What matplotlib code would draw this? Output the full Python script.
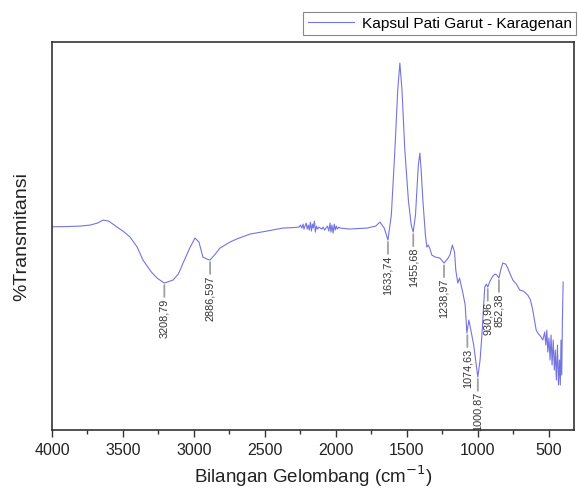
"""
FTIR spectrum: Kapsul Pati Garut - Karagenan
"""
import numpy as np
import matplotlib.pyplot as plt
import matplotlib as mpl
from matplotlib.ticker import MultipleLocator

mpl.rcParams['font.family'] = ['Liberation Sans', 'DejaVu Sans']

#%% spectrum (wavenumber, transmittance in arbitrary %)
wavenumber = [
    4000, 3900, 3800, 3732, 3680, 3640, 3600, 3542, 3500, 3450, 3400, 3359,
    3300, 3260, 3209, 3148, 3110, 3077, 3030, 2993, 2965, 2937, 2910, 2887,
    2850, 2817, 2747, 2700, 2606, 2487, 2374, 2300, 2260, 2250, 2240, 2232,
    2225, 2218, 2210, 2202, 2195, 2188, 2180, 2173, 2166, 2160, 2152, 2145,
    2138, 2130, 2120, 2110, 2100, 2090, 2080, 2070, 2060, 2050, 2042, 2035,
    2028, 2020, 2012, 2005, 1998, 1990, 1980, 1970, 1902, 1850, 1782, 1720,
    1690, 1660, 1634, 1610, 1585, 1565, 1550, 1535, 1515, 1490, 1470, 1456,
    1440, 1420, 1409, 1400, 1388, 1370, 1360, 1350, 1340, 1325, 1300, 1268,
    1250, 1239, 1215, 1198, 1180, 1165, 1156, 1142, 1130, 1106, 1090, 1078,
    1064, 1050, 1030, 1015, 1001, 985, 973, 960, 952, 940, 931, 915,
    895, 880, 867, 852, 840, 825, 805, 790, 770, 754, 730, 705,
    680, 649, 630, 614, 600, 590, 578, 560, 543, 530, 522, 515,
    508, 500, 492, 485, 478, 470, 462, 455, 448, 440, 433, 426,
    420, 415, 410, 405, 400,
]
pixel_y = [
    226.7, 226.5, 226, 225, 223, 220, 221, 227, 231, 237, 247, 260,
    272, 278, 283, 280, 274, 263, 248, 238, 242, 257, 259, 260,
    254, 248, 242, 239, 234, 231, 228, 227.5, 227, 225, 228, 224,
    229, 226, 223, 229, 225, 230, 222, 231, 224, 228, 221, 232,
    226, 229, 227, 228, 229, 227, 230, 228, 226, 231, 223, 232,
    225, 233, 224, 230, 226, 229, 227, 228, 229, 228.5, 228, 226,
    222, 228, 240, 215, 150, 90, 63, 90, 150, 200, 225, 232,
    215, 165, 153, 170, 200, 235, 247, 245, 248, 255, 257, 258,
    261, 263, 259, 255, 245, 252, 270, 283, 278, 293, 305, 333,
    320, 330, 345, 362, 377, 360, 337, 305, 287, 284, 287, 281,
    276, 274, 275, 278, 270, 263, 264, 268, 275, 280, 284, 290,
    291, 295, 300, 310, 322, 330, 333, 336, 340, 332, 345, 330,
    352, 338, 360, 335, 365, 340, 370, 350, 380, 345, 385, 360,
    385, 340, 375, 320, 282,
]
# convert read pixel rows into transmittance scale (0-100 over plot height)
transmittance = (430 - np.array(pixel_y)) / 388 * 100

# labelled minima
peak_wn = [3208.79, 2886.597, 1633.74, 1455.68, 1238.97, 1074.63, 1000.87, 930.96, 852.38]
peak_labels = ['3208,79', '2886,597', '1633,74', '1455,68', '1238,97', '1074,63', '1000,87', '930,96', '852,38']
peak_t = [37.9, 43.8, 49.0, 51.0, 43.0, 25.0, 13.7, 36.9, 39.2]

#%%
fig = plt.figure(figsize=(5.79, 4.90), dpi=100)
ax = fig.add_axes([0.0898, 0.1224, 0.9012, 0.7916])

line, = ax.plot(wavenumber, transmittance, color='#7474e0', lw=0.8,
                label='Kapsul Pati Garut - Karagenan')

for w, t, lab in zip(peak_wn, peak_t, peak_labels):
    ax.annotate('', xy=(w, t), xytext=(0, -10), textcoords='offset points',
                arrowprops=dict(arrowstyle='-', color='#a0a0a0', lw=1.3,
                                shrinkA=0, shrinkB=1.5))
    ax.annotate(lab, xy=(w, t), xytext=(0, -11), textcoords='offset points',
                rotation=90, ha='center', va='top', fontsize=7.8, color='#333333')

ax.set_xlim(4000, 325)
ax.set_ylim(0, 100)
ax.xaxis.set_major_locator(MultipleLocator(500))
ax.xaxis.set_minor_locator(MultipleLocator(250))
ax.tick_params(axis='x', which='major', direction='out', length=5, width=1,
               labelsize=11.5, colors='#333333', labelcolor='#222222', pad=4)
ax.tick_params(axis='x', which='minor', direction='out', length=3, width=1,
               colors='#333333')
ax.set_yticks([])
for s in ax.spines.values():
    s.set_linewidth(1.2)
    s.set_color('#333333')

ax.set_xlabel('Bilangan Gelombang (cm$^{-1}$)', fontsize=13.5, color='#222222', labelpad=4)
ax.set_ylabel('%Transmitansi', fontsize=14, color='#222222', labelpad=16)

leg = fig.legend(handles=[line], loc='upper left',
                 bbox_to_anchor=(303 / 579, 1 - 12 / 490), borderaxespad=0,
                 fancybox=False, edgecolor='#888888', framealpha=1,
                 fontsize=11.1, handlelength=3.0, borderpad=0.3, handletextpad=0.5)
leg.get_frame().set_linewidth(0.8)

fig.savefig('out.png', dpi=100)
